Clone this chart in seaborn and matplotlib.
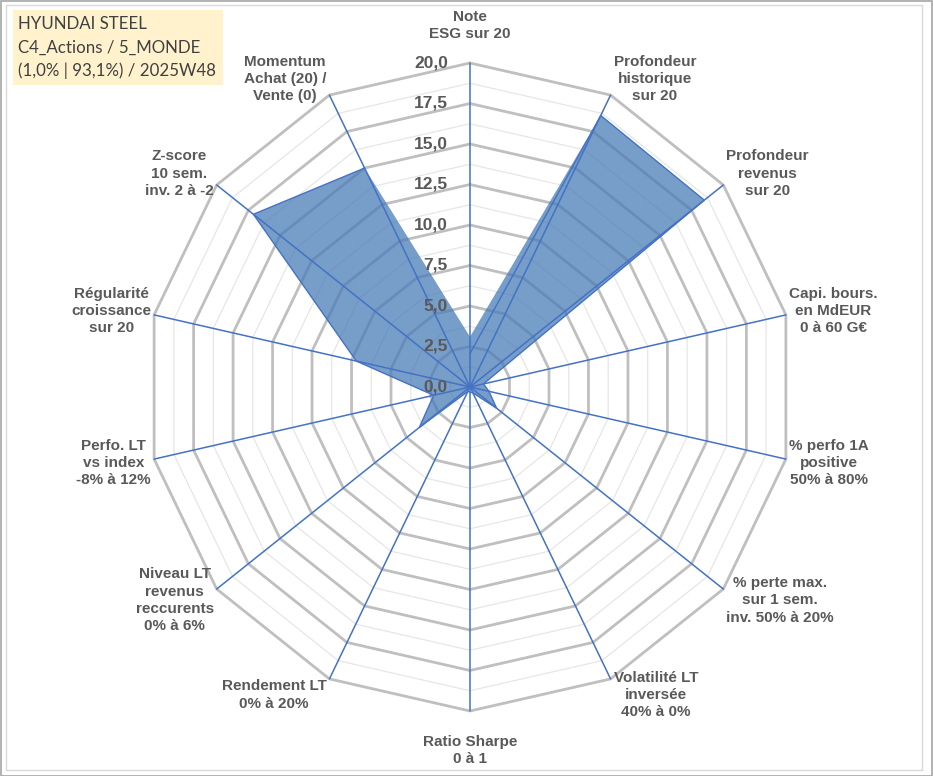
import numpy as np
import matplotlib.pyplot as plt
import seaborn as sns
from matplotlib.patches import Rectangle

# --- data -------------------------------------------------------------
axis_labels = [
    "Note\nESG sur 20",
    "Profondeur\nhistorique\nsur 20",
    "Profondeur\nrevenus\nsur 20",
    "Capi. bours.\nen MdEUR\n0 à 60 G€",
    "% perfo 1A\npositive\n50% à 80%",
    "% perte max.\nsur 1 sem.\ninv. 50% à 20%",
    "Volatilité LT\ninversée\n40% à 0%",
    "Ratio Sharpe\n0 à 1",
    "Rendement LT\n0% à 20%",
    "Niveau LT\nrevenus\nreccurents\n0% à 6%",
    "Perfo. LT\nvs index\n-8% à 12%",
    "Régularité\ncroissance\nsur 20",
    "Z-score\n10 sem.\ninv. 2 à -2",
    "Momentum\nAchat (20) /\nVente (0)",
]
scores = [3.1, 18.6, 18.5, 0.85, 1.2, 2.1, 0.4, 0.0, 0.3, 4.0, 2.3, 7.2, 17.1, 15.0]
major_ticks = [0.0, 2.5, 5.0, 7.5, 10.0, 12.5, 15.0, 17.5, 20.0]
minor_ticks = [1.25, 3.75, 6.25, 8.75, 11.25, 13.75, 16.25, 18.75]
title_lines = ["HYUNDAI STEEL", "C4_Actions / 5_MONDE", "(1,0% | 93,1%) / 2025W48"]

# --- style ------------------------------------------------------------
sns.set_style("white")
plt.rcParams['font.family'] = ['Liberation Sans', 'DejaVu Sans']
TXT = '#595959'
SPOKE = '#4472C4'

n = len(axis_labels)
theta = np.arange(n) * 2 * np.pi / n          # clockwise from top
ux, uy = np.sin(theta), np.cos(theta)
rmax = major_ticks[-1]

fig = plt.figure(figsize=(9.33, 7.76), dpi=100)
ax = fig.add_axes([100 / 933, 19 / 776, 740 / 933, 740 / 776])
lim = 370 / 324 * rmax
ax.set_xlim(-lim, lim)
ax.set_ylim(-lim, lim)
ax.set_aspect('equal')
ax.axis('off')
px = rmax / 324   # data units per pixel

ring_x = np.append(ux, ux[0])
ring_y = np.append(uy, uy[0])

# grid rings (polygon shaped, like Excel radar)
for r in minor_ticks:
    ax.plot(ring_x * r, ring_y * r, color='#E6E6E6', lw=0.9, zorder=1)
for r in major_ticks[1:]:
    ax.plot(ring_x * r, ring_y * r, color='#BFBFBF', lw=2.0, zorder=2)

# data polygon
vals = np.array(scores + scores[:1])
ax.fill(ring_x * vals, ring_y * vals, color='#4A7CB8', alpha=0.75, lw=0, zorder=3)
sns.lineplot(x=ring_x * vals, y=ring_y * vals, sort=False, ax=ax,
             color='#4472C4', lw=1.0, zorder=4)

# spokes
for i in range(n):
    ax.plot([0, ux[i] * rmax], [0, uy[i] * rmax], color=SPOKE, lw=1.1, zorder=5)

# radial tick labels
for t in major_ticks:
    ax.text(-22 * px, t, f"{t:.1f}".replace('.', ','), ha='right', va='center',
            fontsize=12.5, fontweight='bold', color=TXT, zorder=6)

# category labels
for i, lab in enumerate(axis_labels):
    vx, vy = ux[i] * rmax, uy[i] * rmax
    if abs(ux[i]) < 0.1:
        if uy[i] > 0:
            ax.text(vx, vy + 22 * px, lab, ha='center', va='bottom', fontsize=11,
                    fontweight='bold', color=TXT, linespacing=1.3, multialignment='center')
        else:
            ax.text(vx, vy - 24 * px, lab, ha='center', va='top', fontsize=11,
                    fontweight='bold', color=TXT, linespacing=1.3, multialignment='center')
    else:
        ha = 'left' if ux[i] > 0 else 'right'
        ax.text(vx + np.sign(ux[i]) * 3 * px, vy + uy[i] * 18 * px, lab, ha=ha,
                va='center', fontsize=11, fontweight='bold', color=TXT,
                linespacing=1.3, multialignment='center')

for a in (ax.lines + ax.texts):
    a.set_clip_on(False)

# frames
fig.patches.append(Rectangle((0.5 / 933, 0.5 / 776), 931.5 / 933, 775 / 776,
                             transform=fig.transFigure, fill=False,
                             edgecolor='#A6A6A6', lw=1.2))
fig.patches.append(Rectangle((6 / 933, 6 / 776), 916 / 933, 765 / 776,
                             transform=fig.transFigure, fill=False,
                             edgecolor='#D9D9D9', lw=1.0))

# title box
fig.patches.append(Rectangle((13 / 933, 1 - 85 / 776), 210 / 933, 75 / 776,
                             transform=fig.transFigure, facecolor='#FFF2CC',
                             edgecolor='none'))
for k, line in enumerate(title_lines):
    fig.text(18 / 933, 1 - (24 + 23.5 * k) / 776, line, ha='left', va='center',
             fontsize=12.2, color='#404040', family=['Lato', 'DejaVu Sans'])

fig.savefig('out.png', dpi=100)
